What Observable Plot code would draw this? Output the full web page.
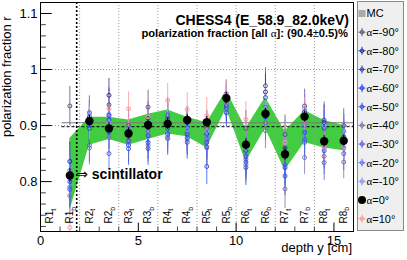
<!DOCTYPE html>
<html><head><meta charset="utf-8">
<script src="https://cdn.jsdelivr.net/npm/d3@7"></script>
<script src="https://cdn.jsdelivr.net/npm/@observablehq/plot@0.6"></script>
<style>
html,body{margin:0;padding:0;background:#fff;}
#chart{position:relative;width:407px;height:260px;overflow:hidden;}
</style>
</head><body><div id="chart"></div>
<script>
// ---- data ----
const positions = [1.5,2.5,3.5,4.5,5.5,6.5,7.5,8.5,9.5,10.5,11.5,12.5,13.5,14.5,15.5];
const regionPos = [0.5,1.5,2.5,3.5,4.5,5.5,6.5,7.5,8.5,9.5,10.5,11.5,12.5,13.5,14.5,15.5];
const regionLabels = ["R1t","R1b","R2t","R2b","R3t","R3b","R4t","R4b","R5t","R5b","R6t","R6b","R7t","R7b","R8t","R8b"];
const bandHi = [0.877,0.915,0.915,0.910,0.920,0.928,0.915,0.905,0.962,0.895,0.950,0.890,0.927,0.909,0.900];
const bandLo = [0.748,0.865,0.875,0.865,0.875,0.885,0.880,0.860,0.930,0.835,0.895,0.820,0.870,0.860,0.855];
const a_m90 = [0.935,0.923,0.937,0.900,0.933,0.918,0.905,0.895,0.954,0.895,0.971,0.884,0.935,0.910,0.900];
const a_m80 = [0.836,0.915,0.954,0.890,0.913,0.912,0.896,0.885,0.945,0.855,0.960,0.860,0.925,0.905,0.890];
const a_m70 = [0.811,0.905,0.918,0.873,0.882,0.895,0.885,0.870,0.935,0.845,0.950,0.845,0.915,0.895,0.880];
const a_m60 = [0.800,0.895,0.910,0.865,0.870,0.885,0.878,0.862,0.923,0.835,0.932,0.825,0.888,0.870,0.870];
const a_m50 = [0.786,0.900,0.888,0.859,0.859,0.877,0.870,0.827,0.930,0.825,0.915,0.810,0.875,0.855,0.860];
const a_m40 = [0.775,0.860,0.879,0.870,0.865,0.880,0.875,0.860,0.940,0.830,0.891,0.787,0.843,0.845,0.835];
const a_m30 = [0.790,0.865,0.850,0.880,0.890,0.909,0.890,0.875,0.950,0.840,0.905,0.830,0.870,0.834,0.850];
const a_m20 = [0.820,0.910,0.920,0.895,0.900,0.920,0.900,0.880,0.957,0.850,0.920,0.850,0.900,0.860,0.870];
const a_m10 = [0.810,0.920,0.905,0.885,0.905,0.900,0.893,0.890,0.948,0.860,0.940,0.875,0.930,0.900,0.890];
const a_0   = [0.811,0.908,0.895,0.886,0.901,0.903,0.910,0.906,0.949,0.866,0.921,0.849,0.916,0.872,0.873];
const a_p10 = [0.718,0.905,0.930,0.930,0.915,0.945,0.929,0.918,0.955,0.911,0.930,0.870,0.920,0.862,0.861];
const errAlpha = [0.035,0.030,0.030,0.030,0.030,0.030,0.030,0.032,0.025,0.032,0.032,0.035,0.030,0.032,0.030];
const err0 = [0.012,0.010,0.010,0.010,0.010,0.010,0.010,0.010,0.010,0.010,0.010,0.012,0.010,0.010,0.010];
const mcLevel = 0.905, fitLevel = 0.898, scintEdge = 1.85, lineStart = 1.1;
const yMajor = [0.8,0.9,1.0,1.1];
const yTickLabels = ["0.8","0.9","1","1.1"];
const yMinor = [0.72,0.74,0.76,0.78,0.82,0.84,0.86,0.88,0.92,0.94,0.96,0.98,1.02,1.04,1.06,1.08];
const xMajor = [0,5,10,15];
const xTickLabels = ["0","5","10","15"];
const xMinor = [1,2,3,4,6,7,8,9,11,12,13,14];
const gridX = [2,4,6,8,10,12,14];
const gridY = [0.9,1.0];
const seriesNames = ["α=-90°","α=-80°","α=-70°","α=-60°","α=-50°","α=-40°","α=-30°","α=-20°","α=-10°","α=10°"];
const seriesColors = ["#555588","#2233aa","#3344cc","#2244ff","#3355ee","#7777aa","#5566dd","#6677ff","#8899ff","#ff9999"];
const seriesValues = [a_m90,a_m80,a_m70,a_m60,a_m50,a_m40,a_m30,a_m20,a_m10,a_p10];
const legendLabels = ["MC","α=-90°","α=-80°","α=-70°","α=-60°","α=-50°","α=-40°","α=-30°","α=-20°","α=-10°","α=0°","α=10°"];
const legendColors = ["#aaaaaa","#555588","#2233aa","#3344cc","#2244ff","#3355ee","#7777aa","#5566dd","#6677ff","#8899ff","#000000","#ff9999"];

// ---- build tables ----
const band = positions.map((x,i)=>({x, hi:bandHi[i], lo:bandLo[i]}));
const pts = [];
seriesValues.forEach((vals,s)=>vals.forEach((v,i)=>pts.push({x:positions[i], y:v, e:errAlpha[i], col:seriesColors[s]})));
const black = a_0.map((v,i)=>({x:positions[i], y:v, e:err0[i]}));
const Y0 = 0.711, Y1 = 1.1196;

const plot = Plot.plot({
  width:407, height:260, marginLeft:40, marginRight:54, marginTop:2, marginBottom:29,
  x:{domain:[0,16], axis:null},
  y:{domain:[Y0,Y1], axis:null},
  color:{type:"identity"},
  style:{fontFamily:"'Liberation Sans', Arial, sans-serif", background:"#fff", overflow:"visible"},
  marks:[
    Plot.areaY(band, {x:"x", y1:"lo", y2:"hi", fill:"#42cc42"}),
    Plot.ruleX(gridX, {x:d=>d, stroke:"#9a9a9a", strokeDasharray:"1,2"}),
    Plot.ruleY(gridY, {y:d=>d, stroke:"#9a9a9a", strokeDasharray:"1,2"}),
    Plot.ruleY([mcLevel], {y:d=>d, x1:()=>lineStart, x2:()=>16, stroke:"#7a7a7a", strokeWidth:1.2}),
    Plot.ruleY([fitLevel], {y:d=>d, x1:()=>lineStart, x2:()=>16, stroke:"#000", strokeDasharray:"3,2"}),
    Plot.ruleX([scintEdge], {x:d=>d, stroke:"#000", strokeWidth:1.6, strokeDasharray:"2,2"}),
    Plot.ruleX(pts, {x:"x", y1:d=>d.y-d.e, y2:d=>d.y+d.e, stroke:"col", strokeOpacity:0.8, strokeWidth:1, clip:true}),
    Plot.dot(pts, {x:"x", y:"y", r:2, stroke:"col", fill:"none", strokeWidth:1, clip:true}),
    Plot.ruleX(black, {x:"x", y1:d=>d.y-d.e, y2:d=>d.y+d.e, stroke:"#000", strokeWidth:1}),
    Plot.dot(black, {x:"x", y:"y", r:4.2, fill:"#000"}),
    // ticks
    Plot.ruleY(yMajor, {y:d=>d, x1:()=>0, x2:()=>0.6, stroke:"#000"}),
    Plot.ruleY(yMinor, {y:d=>d, x1:()=>0, x2:()=>0.3, stroke:"#444"}),
    Plot.ruleX(xMajor, {x:d=>d, y1:()=>Y0, y2:()=>Y0+0.015, stroke:"#000"}),
    Plot.ruleX(xMinor, {x:d=>d, y1:()=>Y0, y2:()=>Y0+0.008, stroke:"#444"}),
    Plot.text(yMajor, {x:()=>0, y:d=>d, text:(d,i)=>yTickLabels[i], textAnchor:"end", dx:-3, fontSize:13, fill:"#000"}),
    Plot.text(xMajor, {x:d=>d, y:()=>Y0, text:(d,i)=>xTickLabels[i], lineAnchor:"top", dy:4, fontSize:13, fill:"#000"}),
    Plot.text(regionPos, {x:d=>d, y:()=>Y0, text:(d,i)=>regionLabels[i], rotate:-90, textAnchor:"start", dy:-8, fontSize:10, fill:"#000", className:"rlab"}),
    Plot.frame({stroke:"#000"})
  ]
});
document.getElementById("chart").appendChild(plot);

// subscripts on region labels
d3.select(plot).selectAll("g.rlab text").each(function(){
  const t = this.textContent;
  const main = t.slice(0,-1), sub = t.slice(-1);
  const sel = d3.select(this);
  sel.text(null);
  sel.append("tspan").text(main);
  sel.append("tspan").attr("dy","0.35em").attr("font-size","7px").text(sub);
});

const svg = d3.select(plot);
const xs = plot.scale("x"), ys = plot.scale("y");

// scintillator annotation
const ann = svg.append("text").attr("x", xs.apply(scintEdge)).attr("y", ys.apply(0.811)+4.5)
  .attr("text-anchor","start").attr("font-size",14).attr("font-weight","bold").attr("fill","#000");
ann.append("tspan").attr("font-weight","normal").attr("font-family","'DejaVu Sans', sans-serif").text("⇒");
ann.append("tspan").text(" scintillator");

// titles
svg.append("text").attr("x",349).attr("y",24.5).attr("text-anchor","end")
  .attr("font-size",14).attr("font-weight","bold").attr("fill","#000").text("CHESS4 (E_58.9_82.0keV)");
const t2 = svg.append("text").attr("x",348).attr("y",37).attr("text-anchor","end")
  .attr("font-size",11.2).attr("font-weight","bold").attr("fill","#000");
t2.append("tspan").text("polarization fraction [all ");
t2.append("tspan").attr("font-family","'Liberation Serif', serif").attr("font-weight","normal").text("α");
t2.append("tspan").text("]: (90.4");
t2.append("tspan").attr("font-weight","normal").text("±");
t2.append("tspan").text("0.5)%");

// axis titles
svg.append("text").attr("transform","translate(10.5,137) rotate(-90)").attr("text-anchor","start")
  .attr("font-size",13).attr("fill","#000").text("polarization fraction r");
svg.append("text").attr("x",352).attr("y",252).attr("text-anchor","end")
  .attr("font-size",13).attr("fill","#000").text("depth y [cm]");

// legend
const lg = svg.append("g");
lg.append("rect").attr("x",357.5).attr("y",1.5).attr("width",46).attr("height",229)
  .attr("fill","#efefef").attr("stroke","#8a8a8a");
legendLabels.forEach((lab,i)=>{
  const y = 13.5 + i*18.65, c = legendColors[i];
  if (i===0) {
    lg.append("rect").attr("x",358.5).attr("y",y-3.5).attr("width",7).attr("height",7).attr("fill",c);
  } else if (lab==="α=0°") {
    lg.append("circle").attr("cx",362).attr("cy",y).attr("r",4).attr("fill","#000");
  } else {
    lg.append("line").attr("x1",358.5).attr("x2",365.5).attr("y1",y).attr("y2",y).attr("stroke",c);
    lg.append("line").attr("x1",362).attr("x2",362).attr("y1",y-4).attr("y2",y+4).attr("stroke",c);
    lg.append("circle").attr("cx",362).attr("cy",y).attr("r",1.8).attr("fill","none").attr("stroke",c);
  }
  const tx = lg.append("text").attr("x",366.5).attr("y",y).attr("dy","0.35em").attr("text-anchor","start")
    .attr("font-size",11).attr("fill","#000");
  if (lab.startsWith("α")) {
    tx.append("tspan").attr("font-family","'Liberation Serif', serif").text("α");
    tx.append("tspan").text(lab.slice(1));
  } else tx.text(lab);
});
</script>
</body></html>
